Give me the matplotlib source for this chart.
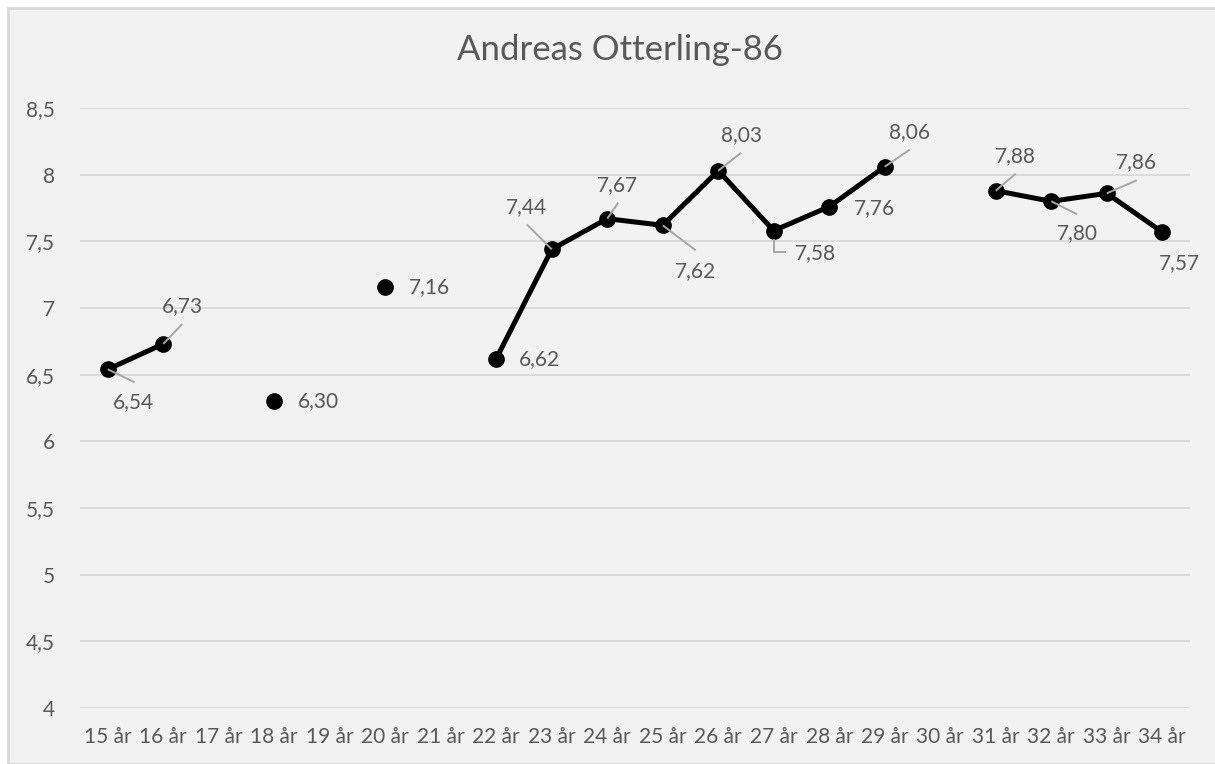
import numpy as np
import matplotlib
matplotlib.use("Agg")
import matplotlib.pyplot as plt
from matplotlib.patches import Rectangle

plt.rcParams['font.family'] = ['Lato', 'DejaVu Sans']

# data
ages = [f"{a} år" for a in range(15, 35)]
scores = [6.54, 6.73, np.nan, 6.30, np.nan, 7.16, np.nan, 6.62, 7.44, 7.67,
          7.62, 8.03, 7.58, 7.76, 8.06, np.nan, 7.88, 7.80, 7.86, 7.57]
yticks = [4, 4.5, 5, 5.5, 6, 6.5, 7, 7.5, 8, 8.5]

# label offsets in pixels (dx, dy) and leader line path (pixel offsets)
label_pos = {
    0: ((26, -33), [(0, 0), (27, -13)]),
    1: ((19, 38), [(0, 0), (19, 20)]),
    3: ((44, 0), None),
    5: ((44, 0), None),
    7: ((43, 0), None),
    8: ((-25, 42), [(0, 0), (-25, 25)]),
    9: ((10, 34), [(0, 0), (11, 16)]),
    10: ((33, -46), [(0, 0), (33, -25)]),
    11: ((23, 36), [(0, 0), (23, 18)]),
    12: ((42, -22), [(0, -8), (0, -21), (12, -21)]),
    13: ((45, -1), None),
    14: ((25, 35), [(0, 0), (25, 17)]),
    16: ((20, 35), [(0, 0), (20, 17)]),
    17: ((26, -32), [(0, 0), (26, -13)]),
    18: ((30, 31), [(0, 0), (30, 13)]),
    19: ((17, -31), None),
}

bg = '#f2f2f2'
txt = '#595959'

fig = plt.figure(figsize=(12.15, 7.64), dpi=100, facecolor='white')
fig.add_artist(Rectangle((8, 0), 1300, 756, transform=None, facecolor=bg,
                         edgecolor='#d9d9d9', linewidth=2, zorder=-10))
ax = fig.add_axes([80 / 1215, 56 / 764, 1110 / 1215, 600 / 764])
ax.set_facecolor(bg)

x = np.arange(len(ages))
ax.set_xlim(-0.5, len(ages) - 0.5)
ax.set_ylim(4, 8.5)

ax.plot(x, scores, color='black', linewidth=3.6, marker='o', markersize=11,
        zorder=3)

for i, ((dx, dy), path) in label_pos.items():
    v = scores[i]
    s = f"{v:.2f}".replace('.', ',')
    ax.annotate(s, (x[i], v), xytext=(dx, dy), textcoords='offset pixels',
                ha='center', va='center', fontsize=15, color=txt)
    if path:
        # leader line, given as pixel offsets from the data point
        base = ax.transData.transform((x[i], v))
        disp = np.array(path, float) + base
        data = ax.transData.inverted().transform(disp)
        ax.plot(data[:, 0], data[:, 1], color='#a6a6a6', linewidth=1.4,
                zorder=4, solid_capstyle='butt')

ax.set_xticks(x)
ax.set_xticklabels(ages, fontsize=15, color=txt)
ax.set_yticks(yticks)
ax.set_yticklabels([f"{t:g}".replace('.', ',') for t in yticks], fontsize=15,
                   color=txt)
ax.tick_params(length=0, pad=14)
ax.tick_params(axis='y', pad=18)
ax.grid(axis='y', color='#d9d9d9', linewidth=1.3)
ax.set_axisbelow(True)
for sp in ax.spines.values():
    sp.set_visible(False)

fig.text(620 / 1215, 1 - 50 / 764, 'Andreas Otterling-86', ha='center',
         va='center', fontsize=25, color=txt)

fig.savefig('out.png', dpi=100, facecolor=fig.get_facecolor())
